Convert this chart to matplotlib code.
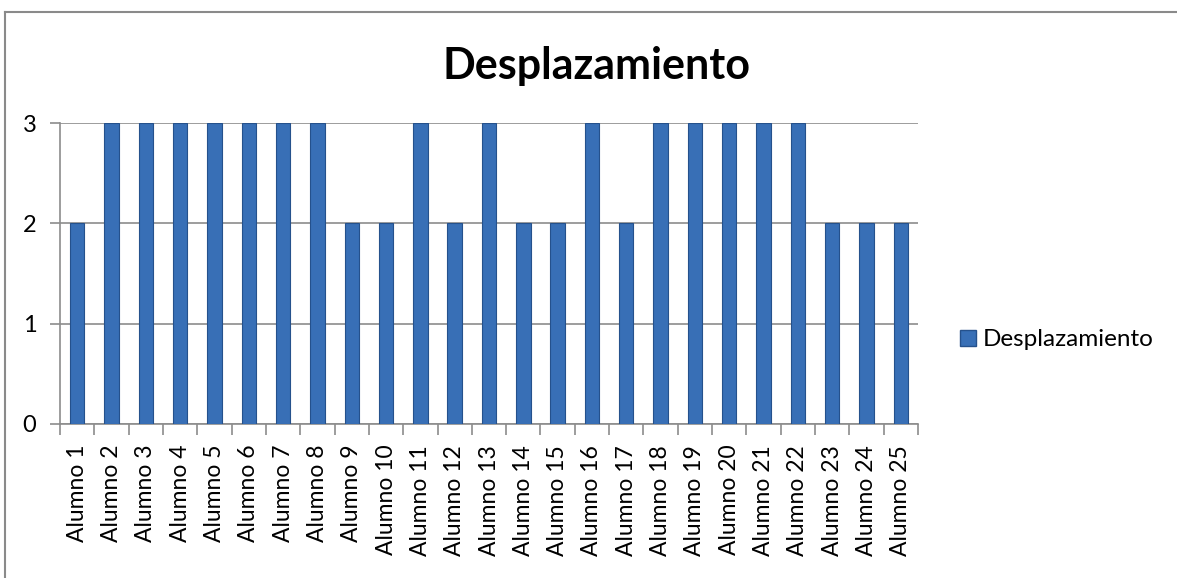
"""Desplazamiento por alumno: bar chart."""

import matplotlib

matplotlib.use("Agg")
import matplotlib.pyplot as plt
from matplotlib.lines import Line2D
from matplotlib.patches import Patch
import numpy as np

alumnos = [f"Alumno {i}" for i in range(1, 26)]
desplazamiento = [2, 3, 3, 3, 3, 3, 3, 3, 2, 2, 3, 2, 3, 2, 2, 3, 2, 3, 3, 3, 3, 3, 2, 2, 2]
y_ticks = [0, 1, 2, 3]

BLUE = "#386fb6"
EDGE = "#25518c"
GRID = "#8c8c8c"

plt.rcParams["font.family"] = ["Lato", "DejaVu Sans"]

fig = plt.figure(figsize=(11.77, 5.78), dpi=100)
ax = fig.add_axes([60 / 1177, 1 - 424 / 578, 858 / 1177, 301 / 578])

x = np.arange(len(alumnos))
ax.bar(x, desplazamiento, width=0.42, color=BLUE, edgecolor=EDGE, linewidth=0.8,
       zorder=3, label="Desplazamiento")

ax.set_xlim(-0.5, len(alumnos) - 0.5)
ax.set_ylim(0, 3)
ax.set_yticks(y_ticks)
ax.set_yticklabels([str(v) for v in y_ticks], fontsize=17)
ax.yaxis.grid(True, color=GRID, linewidth=1.2, zorder=0)
ax.tick_params(axis="y", length=7, color=GRID, width=1.2, pad=10)

ax.set_xticks(x)
ax.set_xticklabels(alumnos, rotation=90, fontsize=16.5)
ax.tick_params(axis="x", length=0, pad=15)
ax.set_xticks(np.arange(len(alumnos) + 1) - 0.5, minor=True)
ax.tick_params(axis="x", which="minor", length=8, color=GRID, width=1.2)

for side in ["top", "right"]:
    ax.spines[side].set_visible(False)
ax.spines["left"].set_color(GRID)
ax.spines["bottom"].set_color(GRID)
ax.spines["left"].set_linewidth(1.2)
ax.spines["bottom"].set_linewidth(1.2)

fig.text(597 / 1177, 1 - 66 / 578, "Desplazamiento", ha="center", va="center",
         fontsize=31, fontweight="bold")

handle = Patch(facecolor=BLUE, edgecolor=EDGE)
fig.legend([handle], ["Desplazamiento"], loc="center left",
           bbox_to_anchor=(938 / 1177, 1 - 340 / 578), frameon=False,
           fontsize=17.5, handlelength=0.65, handleheight=0.65, handletextpad=0.3)

# outer chart frame (only top and left visible in the original crop)
fig.add_artist(Line2D([4.5 / 1177, 1], [1 - 11.5 / 578] * 2, color="#8a8a8a", lw=1.5))
fig.add_artist(Line2D([4.5 / 1177] * 2, [0, 1 - 11.5 / 578], color="#8a8a8a", lw=1.5))

fig.savefig("out.png", dpi=100)
